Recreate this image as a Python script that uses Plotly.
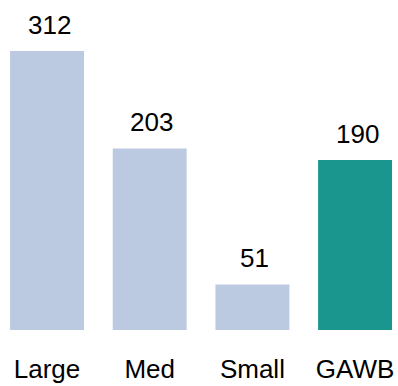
import plotly.graph_objects as go

categories = ["Large", "Med", "Small", "GAWB"]
values = [312, 203, 51, 190]
colors = ["#BCCAE1", "#BCCAE1", "#BCCAE1", "#1A968F"]

FONT = "Liberation Sans, Arial, sans-serif"

fig = go.Figure(
    go.Bar(
        x=categories,
        y=values,
        marker=dict(color=colors, line=dict(width=0)),
        width=0.72,
        hoverinfo="skip",
    )
)

# value labels above each bar
for cat, val in zip(categories, values):
    fig.add_annotation(
        x=cat, y=val, text=str(val), showarrow=False,
        yanchor="bottom", yshift=9, xshift=2,
        font=dict(family=FONT, size=26, color="#000000"),
    )

fig.update_layout(
    width=398, height=386,
    margin=dict(l=0, r=0, t=0, b=56),
    paper_bgcolor="white", plot_bgcolor="white",
    showlegend=False,
    bargap=0.28,
)
fig.update_xaxes(
    range=[-0.458, 3.418],
    showgrid=False, zeroline=False, showline=False, ticks="",
    tickfont=dict(family=FONT, size=26, color="#000000"),
    ticklabelstandoff=21,
)
fig.update_yaxes(
    range=[0, 369], visible=False, showgrid=False, zeroline=False,
)

fig.write_html("out.html")
